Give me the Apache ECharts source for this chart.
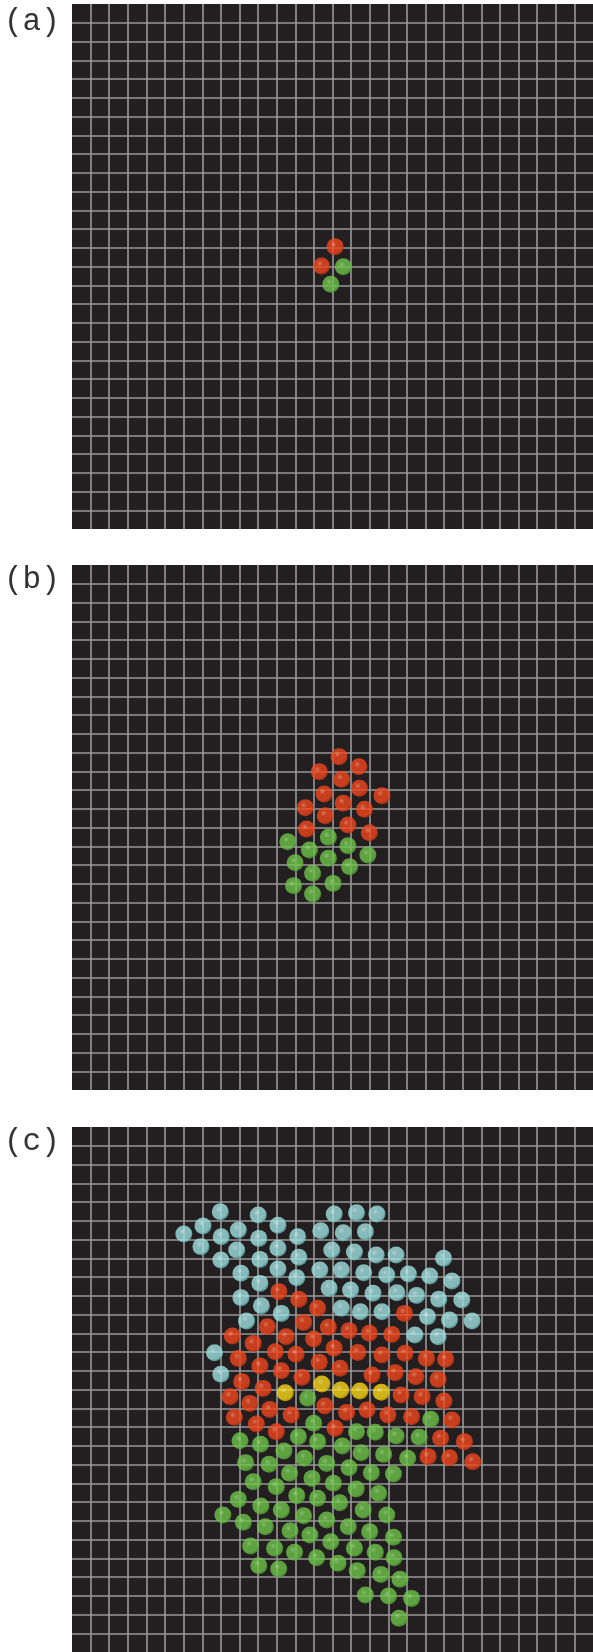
<!DOCTYPE html>
<html>
<head>
<meta charset="utf-8">
<title>Cluster growth, panels (a)-(c)</title>
<script src="https://cdn.jsdelivr.net/npm/echarts@6/dist/echarts.min.js"></script>
<style>
  html, body { margin: 0; padding: 0; background: #fff; }
  #chart { width: 593px; height: 1652px; }
</style>
</head>
<body>
<div id="chart"></div>
<script>
// Positions are in grid cells, measured from the top-left corner of each panel
// (the board is 28 x 28 cells; y grows downward).
const PANEL_LABELS = ["(a)", "(b)", "(c)"];

const A_RED = [[14.14, 12.94], [13.41, 13.97]];
const A_GREEN = [[14.58, 14.01], [13.91, 14.95]];

const B_RED = [
  [14.35, 10.22], [13.29, 11.02], [15.42, 10.76], [14.49, 11.43], [13.55, 12.21],
  [15.45, 11.91], [16.66, 12.30], [14.58, 12.71], [12.54, 12.94], [13.61, 13.37],
  [15.72, 13.03], [14.83, 13.87], [12.61, 14.08], [15.98, 14.28],
];
const B_GREEN = [
  [11.60, 14.76], [13.78, 14.52], [12.76, 15.20], [14.83, 14.97], [15.90, 15.47],
  [11.99, 15.88], [13.78, 15.64], [12.93, 16.44], [14.92, 16.09], [11.91, 17.10],
  [14.03, 16.98], [12.93, 17.55],
];

const C_CYAN = [
  [7.97, 4.52], [10.01, 4.69], [14.09, 4.64], [15.29, 4.57], [16.39, 4.64],
  [7.04, 5.28], [11.07, 5.24], [6.01, 5.71], [8.94, 5.49], [8.02, 5.85],
  [10.04, 5.94], [12.13, 5.85], [13.37, 5.53], [14.58, 5.64], [15.77, 5.58],
  [6.93, 6.38], [8.85, 6.56], [11.07, 6.47], [13.96, 6.56], [15.18, 6.67],
  [16.35, 6.83], [17.42, 6.83], [8.00, 7.09], [10.10, 7.06], [12.19, 6.95],
  [19.97, 7.00], [9.08, 7.80], [11.07, 7.57], [13.32, 7.63], [14.48, 7.63],
  [15.68, 7.77], [16.92, 7.89], [18.08, 7.84], [19.23, 7.95], [10.10, 8.34],
  [12.08, 8.04], [20.42, 8.21], [13.82, 8.60], [14.97, 8.69], [16.18, 8.87],
  [17.46, 8.84], [18.52, 8.98], [19.71, 9.19], [20.95, 9.23], [9.08, 9.10],
  [10.18, 9.53], [11.25, 9.94], [14.48, 9.67], [15.50, 9.85], [16.66, 9.85],
  [19.11, 10.12], [20.29, 10.29], [21.50, 10.35], [9.38, 10.35], [18.43, 11.09],
  [19.68, 11.18], [7.66, 12.04], [8.00, 13.19],
];
const C_RED = [
  [11.12, 8.78], [12.19, 9.19], [13.20, 9.67], [17.87, 9.94], [10.50, 10.65],
  [12.45, 10.42], [13.78, 10.68], [14.89, 10.86], [15.98, 11.00], [17.19, 11.06],
  [8.62, 11.15], [11.51, 11.18], [12.99, 11.31], [9.74, 11.54], [8.94, 12.34],
  [10.93, 11.98], [12.04, 12.12], [10.10, 12.75], [13.29, 12.55], [14.09, 11.80],
  [15.36, 12.02], [16.66, 12.16], [17.90, 12.07], [19.05, 12.34], [20.08, 12.39],
  [14.41, 12.87], [11.25, 13.00], [12.36, 13.35], [9.12, 13.58], [10.27, 13.94],
  [16.13, 13.23], [17.37, 13.10], [18.48, 13.32], [19.68, 13.46], [8.50, 14.38],
  [17.69, 14.29], [18.82, 14.38], [19.99, 14.61], [9.56, 14.74], [10.63, 15.06],
  [13.59, 14.88], [14.76, 15.22], [15.86, 15.09], [16.98, 15.36], [8.73, 15.48],
  [11.78, 15.36], [9.91, 15.84], [10.98, 16.25], [14.14, 16.07], [18.25, 15.45],
  [20.42, 15.63], [19.81, 16.60], [21.09, 16.78], [19.14, 17.58], [20.29, 17.64],
  [21.54, 17.85],
];
const C_YELLOW = [
  [13.43, 13.71], [11.46, 14.17], [14.44, 14.03], [15.47, 14.08], [16.62, 14.15],
];
const C_GREEN = [
  [12.67, 14.47], [12.99, 15.80], [19.28, 15.59], [9.03, 16.73], [10.13, 16.92],
  [12.17, 16.52], [13.20, 16.78], [15.29, 16.25], [16.30, 16.28], [17.42, 16.48],
  [18.66, 16.55], [14.53, 17.01], [11.39, 17.28], [9.33, 17.90], [10.59, 17.99],
  [12.49, 17.67], [13.69, 17.94], [15.54, 17.37], [16.75, 17.46], [18.04, 17.67],
  [14.89, 18.17], [11.69, 18.47], [16.09, 18.44], [17.28, 18.51], [12.90, 18.74],
  [9.74, 18.92], [14.05, 19.00], [10.98, 19.18], [15.27, 19.31], [16.48, 19.54],
  [12.08, 19.66], [13.20, 19.80], [8.94, 19.86], [10.15, 20.21], [14.39, 20.04],
  [11.25, 20.43], [15.65, 20.43], [12.45, 20.73], [16.92, 20.69], [8.11, 20.69],
  [13.69, 20.96], [9.21, 21.08], [10.39, 21.32], [14.85, 21.32], [11.72, 21.53],
  [16.00, 21.58], [12.79, 21.76], [17.28, 21.88], [13.91, 22.12], [9.60, 22.35],
  [10.89, 22.47], [11.96, 22.68], [15.18, 22.47], [16.30, 22.68], [13.15, 22.97],
  [17.31, 22.97], [10.04, 23.40], [11.11, 23.57], [14.30, 23.27], [15.33, 23.66],
  [16.60, 23.86], [17.63, 24.12], [15.77, 24.96], [17.01, 25.01], [18.25, 25.14],
  [17.58, 26.20],
];

const CELLS = 28;
const PANEL_TOPS = [4, 565, 1127];
const PANEL_LEFT = 72;
const PANEL_W = 526;
const PANEL_H = 525;
const LABEL_Y = [25, 583, 1145];

// Shaded beads: a small light spot up-left, flat body, thin darker rim.
function bead(hi, body, rim) {
  return {
    type: "radial", x: 0.4, y: 0.36, r: 0.62,
    colorStops: [
      { offset: 0, color: hi },
      { offset: 0.3, color: body },
      { offset: 0.82, color: body },
      { offset: 1, color: rim },
    ],
  };
}
const RED = bead("#ff8d66", "#f1461d", "#c93614");
const GREEN = bead("#9fe081", "#6dc349", "#55a337");
const CYAN = bead("#dcf7f7", "#9fe0e0", "#66b5b5");
const YELLOW = bead("#fff38c", "#fad717", "#d8b300");

function axis(gridIndex, inverse) {
  return {
    type: "value",
    gridIndex,
    min: 0,
    max: CELLS,
    interval: 1,
    inverse,
    axisLine: { show: false },
    axisTick: { show: false },
    axisLabel: { show: false },
    splitLine: {
      show: true,
      showMinLine: false,
      showMaxLine: false,
      lineStyle: { color: "#999999", width: 1.6 },
    },
  };
}

function dots(gridIndex, data, color) {
  return {
    type: "scatter",
    xAxisIndex: gridIndex,
    yAxisIndex: gridIndex,
    data,
    symbol: "circle",
    symbolSize: 17,
    itemStyle: { color },
    silent: true,
  };
}

const panels = [
  [[A_RED, RED], [A_GREEN, GREEN]],
  [[B_RED, RED], [B_GREEN, GREEN]],
  [[C_CYAN, CYAN], [C_RED, RED], [C_YELLOW, YELLOW], [C_GREEN, GREEN]],
];

const option = {
  animation: false,
  backgroundColor: "#ffffff",
  grid: PANEL_TOPS.map((top) => ({
    left: PANEL_LEFT,
    top,
    width: PANEL_W,
    height: PANEL_H,
    show: true,
    backgroundColor: "#231f20",
    borderWidth: 0,
  })),
  xAxis: PANEL_TOPS.map((_, i) => axis(i, false)),
  yAxis: PANEL_TOPS.map((_, i) => axis(i, true)),
  series: panels.flatMap((groups, i) => groups.map(([data, color]) => dots(i, data, color))),
  graphic: PANEL_LABELS.map((text, i) => ({
    type: "text",
    left: 4,
    top: LABEL_Y[i] - 19,
    style: {
      text,
      font: "31px 'Liberation Mono', 'DejaVu Sans Mono', monospace",
      fill: "#333333",
    },
  })),
};

const chart = echarts.init(document.getElementById("chart"), null, { renderer: "canvas" });
chart.setOption(option);
window.addEventListener("resize", () => chart.resize());
</script>
</body>
</html>
